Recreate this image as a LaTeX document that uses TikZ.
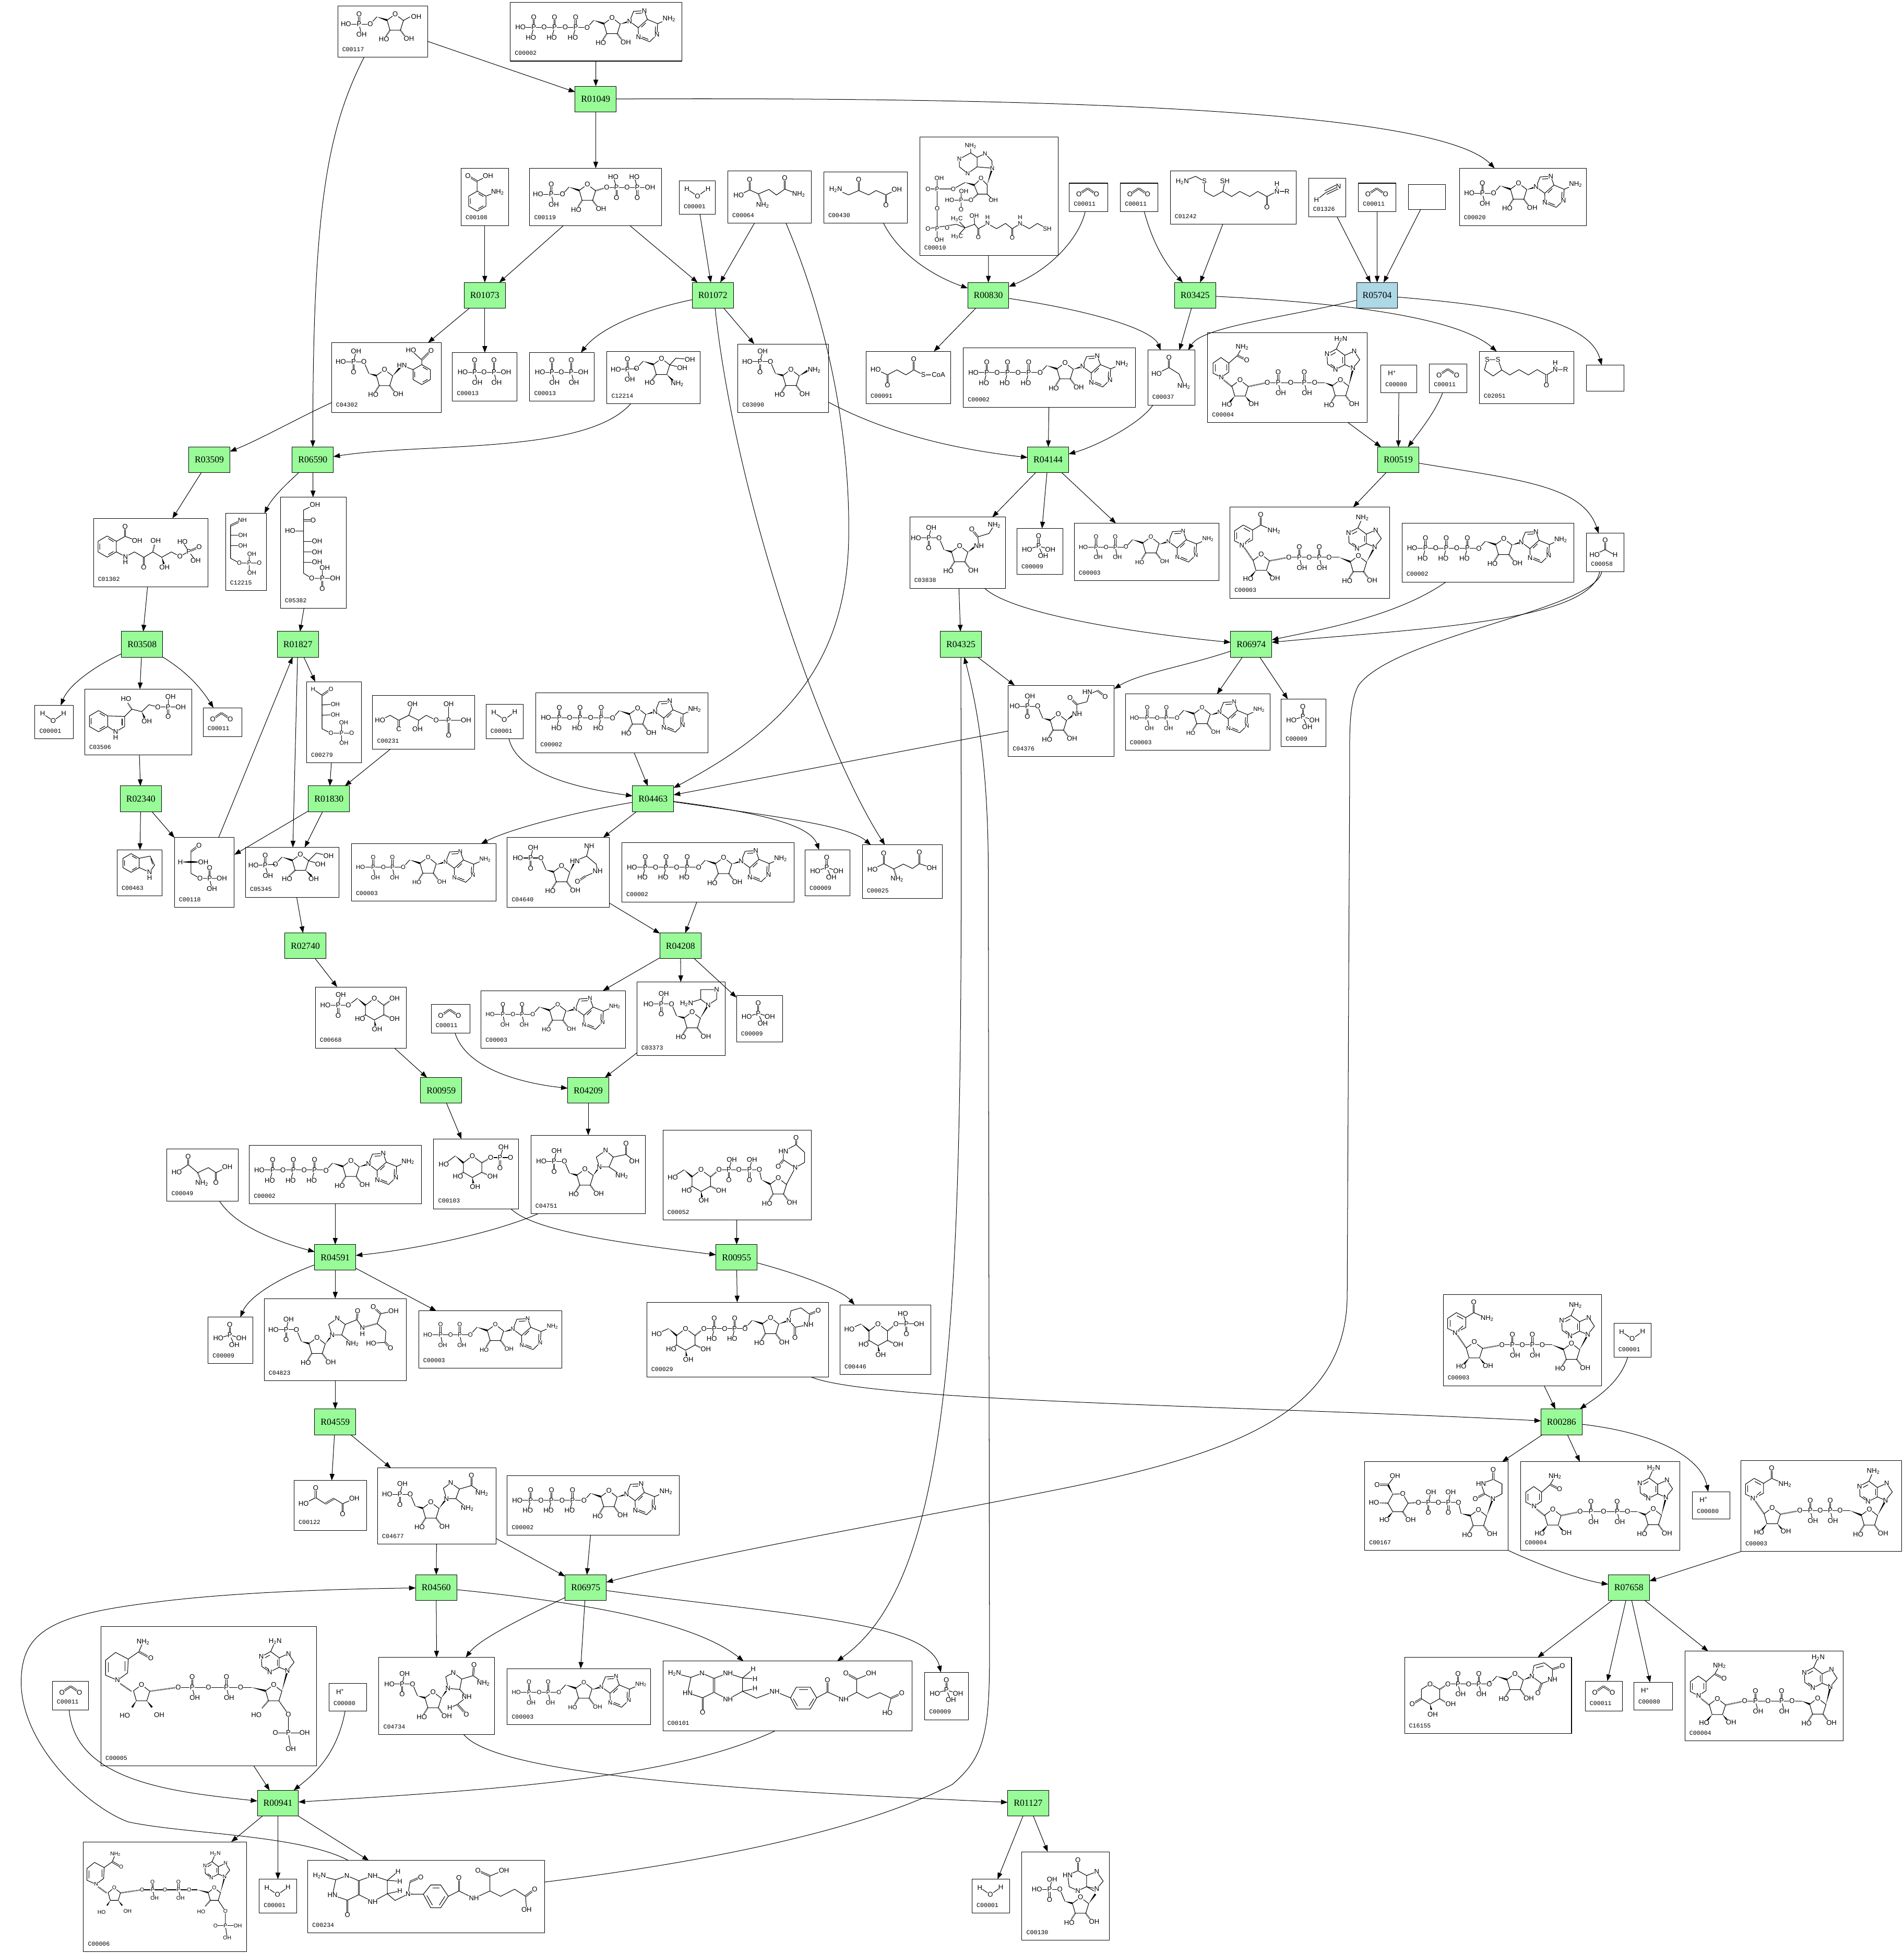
\documentclass[tikz,border=0pt]{standalone}
\usepackage{fontspec}
\setmainfont{Liberation Serif}
\setsansfont{Liberation Sans}
\setmonofont{Liberation Mono}
\usetikzlibrary{arrows.meta,calc}
\tikzset{
  cbox/.style={draw,fill=white,line width=.6pt,inner sep=0pt,outer sep=0pt},
  rbox/.style={draw,fill=rgreen,line width=.6pt,inner sep=0pt,outer sep=0pt,minimum width=1.65cm,minimum height=1.03cm,font=\rmfamily\fontsize{10.5}{12}\selectfont},
  rblue/.style={rbox,fill=rbluefill},
  cid/.style={font=\ttfamily\fontsize{6.9}{7}\selectfont,inner sep=0pt},
  atom/.style={font=\molfont,fill=white,inner sep=.2pt},
  bd/.style={line width=.62pt},
  hs/.style={line width=1.6pt,dash pattern=on .35pt off .55pt},
  rx/.style={line width=.6pt,-{Triangle[length=7.5pt,width=5.5pt]}}
}
\definecolor{rgreen}{RGB}{152,251,152}
\definecolor{rbluefill}{RGB}{173,216,230}
\newcommand\molfont{\sffamily\fontsize{7.8}{8}\selectfont}
\newcommand\molsize[1]{\def\molfont{\sffamily\fontsize{#1}{#1}\selectfont}}
\newcommand\NHt{NH\textsubscript{2}}
\newcommand\HtN{H\textsubscript{2}N}
\newcommand\HtC{H\textsubscript{3}C}
\newcount\atomno
\newcommand\atm[3]{\global\advance\atomno by 1 \node[atom] (a\the\atomno) at (#1,#2) {#3};}
\newcommand\bnd[1]{\draw[bd] #1;}
\newcommand\dbl[4]{\draw[bd,line width=.6pt,double,double distance=.8pt] (#1,#2)--(#3,#4);}
\newcommand\hsh[4]{\draw[hs] (#1,#2)--(#3,#4);}
\newcommand\wdg[4]{\fill (#1,#2) -- ($(#3,#4)!1.1pt!90:(#1,#2)$) -- ($(#3,#4)!1.1pt!-90:(#1,#2)$) -- cycle;}
% phosphate, double bond up or down
\newcommand\pdu[4]{\dbl{#1}{#2}{#1}{#2-8.2}\bnd{(#1,#2)--({#1+#3},{#2+8.3})}\atm{#1}{#2}{P}\atm{#1}{#2-8.2}{O}\atm{{#1+#3}}{{#2+8.3}}{#4}}
\newcommand\pud[4]{\dbl{#1}{#2}{#1}{#2+8.2}\bnd{(#1,#2)--({#1+#3},{#2-8.3})}\atm{#1}{#2}{P}\atm{#1}{#2+8.2}{O}\atm{{#1+#3}}{{#2-8.3}}{#4}}
% sugar rings
\newcommand\rng[2]{\begin{scope}[shift={(#1,#2)}]\bnd{(-6.5,4.8)--(0,0)--(6.6,5.1)--(4.2,12.8)--(-4.2,12.8)--cycle}\atm{0}{0}{O}\end{scope}}
\newcommand\ribd[2]{\begin{scope}[shift={(#1,#2)}]\hsh{-4.2}{12.8}{-7.5}{18}\hsh{4.2}{12.8}{8}{18}\atm{-9}{20.2}{HO}\atm{11}{19.6}{OH}\end{scope}}
\newcommand\ribc[2]{\rng{#1}{#2}\begin{scope}[shift={(#1,#2)}]\wdg{-14.7}{2.1}{-6.5}{4.8}\bnd{(-14.7,2.1)--(-20,8)}\atm{-20}{8}{O}\end{scope}}
\newcommand\rib[2]{\ribc{#1}{#2}\ribd{#1}{#2}}
\newcommand\ribh[2]{\rng{#1}{#2}\ribd{#1}{#2}\begin{scope}[shift={(#1,#2)}]\wdg{-12.5}{3.2}{-6.5}{4.8}\bnd{(-12.5,3.2)--(-16.5,-6.3)}\atm{-16.5}{-6.3}{O}\end{scope}}
\newcommand\rfpa[2]{\rib{#1}{#2}\begin{scope}[shift={(#1,#2)}]\bnd{(-39,8)--(-20,8)}\pdu{-29}{8}{2}{OH}\atm{-39.5}{8}{HO}\atm{-20}{8}{O}\end{scope}}
\newcommand\rfph[2]{\ribh{#1}{#2}\begin{scope}[shift={(#1,#2)}]\bnd{(-35,-6.3)--(-16.5,-6.3)}\pud{-24.8}{-6.3}{2}{OH}\atm{-35}{-6.3}{HO}\atm{-16.5}{-6.3}{O}\end{scope}}
\newcommand\pyr[2]{\begin{scope}[shift={(#1,#2)}]\bnd{(-7.2,5.6)--(0,0)--(7.6,5.6)--(7.6,13.2)--(0,17.4)--(-7.2,13.2)--cycle}\wdg{-13.6}{0}{-7.2}{5.6}\hsh{7.6}{13.2}{12.5}{15.5}\wdg{0}{17.4}{0.8}{22}\hsh{-7.2}{13.2}{-10}{15.5}\atm{0}{0}{O}\atm{16.2}{16.5}{OH}\atm{2.2}{24.7}{OH}\atm{-11.5}{16.5}{HO}\end{scope}}
% bases
\newcommand\ade[2]{\begin{scope}[shift={(#1,#2)}]\wdg{-7.5}{2.2}{0}{0}\bnd{(0,0)--(3.2,-8)--(11.8,-8.5)--(14.3,-1.5)--(6.9,5.1)--cycle}\bnd{(14.3,-1.5)--(22.5,1.9)--(22,10.7)--(16.1,16.4)--(7.1,12.7)--(6.9,5.1)}\bnd{(22.5,1.9)--(31.7,-2.1)}\bnd{(4.8,-6.3)--(10,-6.6)}\bnd{(9.4,4.8)--(13,1.3)}\bnd{(20.8,4)--(20.5,9)}\bnd{(10,12.5)--(15,14.5)}\atm{0}{0}{N}\atm{11.8}{-8.5}{N}\atm{22}{10.7}{N}\atm{7.1}{12.7}{N}\atm{31.7}{-2.1}{\NHt}\end{scope}}
\newcommand\adeb[3]{\begin{scope}[shift={(#1,#2)}]\bnd{(0,0)--(5.4,-6.7)--(.9,-13.6)--(-6.6,-10.3)--(-6.6,-2.7)--cycle}\bnd{(-6.6,-10.3)--(-13.4,-15.3)--(-20.9,-11.3)--(-20.5,-3.3)--(-14.1,1.1)--(-6.6,-2.7)}\bnd{(-13.4,-15.3)--(-9.8,-23.4)}\bnd{(-8.2,-9)--(-8.2,-4)}\bnd{(-14,-12.5)--(-18,-10.3)}\bnd{(-18,-3)--(-14.8,-1)}\atm{0}{0}{N}\atm{.9}{-13.6}{N}\atm{-20.9}{-11.3}{N}\atm{-14.1}{1.1}{N}\atm{-9.8}{-23.4}{#3}\end{scope}}
\newcommand\hexa[3]{\draw[bd] (#1,#2)+(90:#3)--+(150:#3)--+(210:#3)--+(270:#3)--+(330:#3)--+(30:#3)--cycle;
  \draw[bd] (#1,#2)+(158:{.76*#3})--+(202:{.76*#3}) (#1,#2)+(278:{.76*#3})--+(322:{.76*#3}) (#1,#2)+(38:{.76*#3})--+(82:{.76*#3});}
% small compounds
\newcommand\water{\bnd{(6.2,6.7)--(14.7,12.4)--(23.1,6.4)}\atm{6.2}{6.7}{H}\atm{14.7}{12.4}{O}\atm{23.1}{6.4}{H}}
\newcommand\carbon{\dbl{7.7}{9}{14.7}{4.2}\dbl{14.7}{4.2}{21.8}{9}\atm{7.7}{9}{O}\atm{21.8}{9}{O}}
\newcommand\proton{\atm{9}{6.4}{H\textsuperscript{+}}}
\newcommand\phosph{\bnd{(8.2,17)--(17.4,14.2)--(26.7,17)}\bnd{(17.4,14.2)--(21,22.2)}\dbl{17.4}{14.2}{17.4}{6}\atm{17.4}{6}{O}\atm{17.4}{14.2}{P}\atm{8.2}{17}{HO}\atm{26.7}{17}{OH}\atm{21}{22.2}{OH}}
\newcommand\pyroph{\bnd{(8.3,15.8)--(43,15.8)}\dbl{17.9}{15.8}{17.9}{6}\dbl{33.4}{15.8}{33.4}{6}\bnd{(17.9,15.8)--(20,23.9)}\bnd{(33.4,15.8)--(35.5,23.9)}\atm{17.9}{6}{O}\atm{33.4}{6}{O}\atm{8.3}{15.8}{HO}\atm{17.9}{15.8}{P}\atm{25.4}{15.8}{O}\atm{33.4}{15.8}{P}\atm{43}{15.8}{OH}\atm{20}{23.9}{OH}\atm{35.5}{23.9}{OH}}
\newcommand\atpm{\rib{81.6}{12.2}\ade{95.7}{15.1}\bnd{(8.1,19.9)--(60.7,19.9)}\pdu{18.8}{19.9}{-2.3}{HO}\pdu{35.5}{19.9}{-2.3}{HO}\pdu{52.4}{19.9}{-2.3}{HO}\atm{8.1}{19.9}{HO}\atm{27.1}{19.9}{O}\atm{44}{19.9}{O}\atm{61.6}{20.2}{O}}
\newcommand\adpm{\molsize{6.8}\rib{61.5}{10.9}\ade{75.6}{14.6}\bnd{(7.3,19)--(41.5,19)}\pdu{17.5}{19}{1.7}{OH}\pdu{32.9}{19}{1.7}{OH}\atm{7.3}{19}{HO}\atm{25.6}{19}{O}\atm{41.5}{18.9}{O}}
% dinucleotide parts
\newcommand\nleft[4]{\rng{#1}{#2}\begin{scope}[shift={(#1,#2)}]\wdg{-4.2}{12.8}{-8}{17.5}\wdg{4.2}{12.8}{8}{17.5}\atm{-10.5}{19.5}{HO}\atm{11}{19}{OH}\end{scope}\draw[hs] ({#1+7},{#2+5.1})--(#3,#4);}
\newcommand\nright[4]{\rng{#1}{#2}\ribd{#1}{#2}\wdg{#3+8}{#4}{#1-6.5}{#2+4.8}\bnd{(#3,#4)--({#3+8},#4)}}
\newcommand\dichain[6]{\bnd{(#2,#1)--(#6,#1)}\pdu{#3}{#1}{2.1}{OH}\pdu{#5}{#1}{2.1}{OH}\atm{#2}{#1}{O}\atm{#4}{#1}{O}\atm{#6}{#1}{O}}
\newcommand\nadm{\bnd{(10.3,30.3)--(3.6,27)--(3.6,19)--(10.6,14.3)--(18.1,18.3)--(18.1,26.2)--cycle}\bnd{(5.5,25.5)--(5.5,20)}\bnd{(11,16.8)--(16,19.5)}\bnd{(16,25)--(12,28.5)}\bnd{(18.1,18.3)--(24.6,14.3)--(35.3,18.9)}\dbl{24.6}{14.3}{24.6}{6}\atm{24.6}{6}{O}\atm{35.3}{18.9}{\NHt}\atm{10.8}{30.3}{N\textsuperscript{+}}\hsh{11.5}{32.5}{18.5}{42.7}
  \nleft{25}{37.9}{47.2}{40.2}\nright{103}{39}{79.5}{40.2}\wdg{109.6}{44}{116}{32}\adeb{116}{31.9}{\NHt}\dichain{40.2}{47.2}{55.6}{63.5}{71.6}{79.5}}
\newcommand\nadhm{\bnd{(11,35.7)--(4.3,32.4)--(4.3,24.4)--(10.7,19.9)--(17,24.4)--(17,31.6)--cycle}\bnd{(6,31)--(6,25.5)}\bnd{(15.3,25.5)--(15.3,30.5)}\bnd{(17,24.4)--(23.9,18.3)--(27.8,11.6)}\dbl{23.9}{18.3}{31.4}{22}\atm{31.4}{22}{O}\atm{27.8}{11.6}{\NHt}\atm{11}{35.7}{N}\hsh{13}{38}{19.5}{43.3}
  \nleft{26}{38}{47.9}{40}\nright{106.6}{37.7}{85.9}{40}\wdg{113.2}{42.8}{116.7}{29}\adeb{116.7}{28.4}{\HtN}\dichain{40}{47.9}{56.6}{66.7}{77.6}{85.9}}
\newcommand\ndpm{\bnd{(13.3,43.3)--(3.7,39.3)--(3.7,27.2)--(11.7,21)--(21.9,26.3)--(21.4,37.4)--cycle}\bnd{(6,37)--(6,29)}\bnd{(19.5,28)--(19.5,36)}\bnd{(21.9,26.3)--(30.4,20.4)--(33.9,12.4)}\dbl{30.4}{20.4}{40}{25.7}\atm{40}{25.7}{O}\atm{33.9}{12.4}{\NHt}\atm{13.3}{43.3}{N}\hsh{15.5}{46}{24.5}{52.2}
  \rng{32.6}{47}\wdg{28.4}{59.8}{25}{65}\wdg{36.8}{59.8}{41}{65}\atm{19.2}{71.7}{HO}\atm{46.7}{71.1}{OH}\hsh{39.6}{52.1}{62}{49}
  \rng{138.6}{47}\wdg{120.7}{49}{132.1}{51.8}\bnd{(112,49)--(120.7,49)}\hsh{134.4}{59.8}{129}{66}\bnd{(142.8,59.8)--(150.4,70.7)--(150.4,85.6)--(152.3,98.2)}\bnd{(140,85.6)--(163.5,85.6)}\wdg{145.2}{52}{149.6}{36}\adeb{149.6}{35.6}{\HtN}\atm{124.7}{71.3}{HO}\atm{150.4}{70.7}{O}\atm{150.4}{85.6}{P}\atm{140}{85.6}{O}\atm{163.5}{85.6}{OH}\atm{152.3}{98.2}{OH}
  \dichain{49}{62}{73.2}{86.3}{100.7}{112}}
\newcommand\ptrn{\bnd{(9.3,9.7)--(22.4,13)--(19.8,25.4)--(31.8,29.4)--(40.9,25)--(52.1,30.6)--(63.8,24.2)--(63.8,13.5)--(52.1,9.7)--(40.9,13.8)--(31.3,9.7)--(22.4,13)}\bnd{(63.8,13.5)--(72.4,6.3)}\bnd{(63.8,13.5)--(73.8,14.2)}\bnd{(63.8,24.2)--(73.8,22)}\dbl{40.9}{13.8}{40.9}{25}\dbl{31.8}{29.4}{31.8}{41}\atm{9.3}{9.7}{\HtN}\atm{31.3}{9.7}{N}\atm{52.1}{9.7}{NH}\atm{19.8}{25.4}{HN}\atm{52.1}{30.6}{NH}\atm{31.8}{41}{O}\atm{72.4}{6.3}{H}\atm{73.8}{14.2}{H}\atm{73.8}{22}{H}}
\begin{document}
\newcommand\cpd[7]{%
  \node[cbox,minimum width={(#4-#2)*0.05cm},minimum height={(#5-#3)*0.05cm}] (#1) at ({(#2+#4)/2},{(#3+#5)/2}) {};
  \node[cid,anchor=west] (#1id) at (#2+3.5,#5-6.3) {#6};
  \begin{scope}[shift={(#2,#3)}]#7\end{scope}}
\newcommand\rxn[3]{\node[rbox] (#1) at (#2,#3) {#1};}
\begin{tikzpicture}[x=0.05cm,y=-0.05cm,line join=round]
\useasboundingbox (0,0) rectangle (1527.4,1568);
% reactions
\rxn{R01049}{478}{79.5}
\rxn{R01073}{389}{237}\rxn{R01072}{572}{237}\rxn{R00830}{793}{237}\rxn{R03425}{959}{237}
\node[rblue] (R05704) at (1105,237) {R05704};
\rxn{R03509}{168}{369}\rxn{R06590}{251}{369}\rxn{R04144}{841}{369}\rxn{R00519}{1122}{369}
\rxn{R03508}{114}{517}\rxn{R01827}{239}{517}\rxn{R04325}{771}{517}\rxn{R06974}{1004}{517}
\rxn{R02340}{113}{641}\rxn{R01830}{264}{641}\rxn{R04463}{524}{641}
\rxn{R02740}{245}{759}\rxn{R04208}{546}{759}
\rxn{R00959}{354}{875}\rxn{R04209}{472}{875}
\rxn{R04591}{269}{1009}\rxn{R00955}{591}{1009}
\rxn{R04559}{269}{1141}\rxn{R00286}{1253}{1141}
\rxn{R04560}{350}{1274}\rxn{R06975}{470}{1274}\rxn{R07658}{1307}{1274}
\rxn{R00941}{223}{1447}\rxn{R01127}{825}{1447}
% compounds
\cpd{C00117}{271}{5}{343}{46}{C00117}{\rfpa{46.1}{6.4}\bnd{(52.6,11.5)--(58,8.5)}\atm{63}{8.3}{OH}}
\cpd{C00002a}{409.5}{2}{547}{49}{C00002}{\atpm}
\cpd{C00020}{1171}{135}{1273}{181}{C00020}{\rfpa{47.5}{12}\ade{61.6}{15}}
\cpd{C00108}{370}{135}{408}{181}{C00108}{\hexa{13}{26.4}{8}\bnd{(12.8,18.5)--(12.8,10.4)--(21.6,6.1)}\bnd{(20.1,22.2)--(29.3,19)}\dbl{12.8}{10.4}{5.4}{6.1}\atm{5.4}{6.1}{O}\atm{21.6}{6.1}{OH}\atm{29.3}{19}{\NHt}}
\cpd{C00119}{425}{135}{531}{181}{C00119}{\rfpa{46.3}{13}\bnd{(61.8,15.4)--(96.6,15.4)}\hsh{53}{18}{61.8}{15.4}\pud{69.7}{15.4}{-2.6}{HO}\pud{86.3}{15.4}{-2.3}{HO}\atm{61.8}{15.4}{O}\atm{78.2}{15.4}{O}\atm{96.6}{15.4}{OH}}
\cpd{C00001a}{545}{145}{574}{172}{C00001}{\water}
\cpd{C00064}{584}{137}{651}{179}{C00064}{\bnd{(8.7,19.7)--(17.5,15.4)--(24.6,18.6)--(33,15)--(39,19.5)--(45.7,14.8)--(56.9,18.9)}\dbl{17.5}{15.4}{17.5}{7}\dbl{45.7}{14.8}{45.7}{6}\hsh{24.6}{18.6}{27}{25}\atm{8.7}{19.7}{HO}\atm{17.5}{7}{O}\atm{45.7}{6}{O}\atm{28}{27.7}{\NHt}\atm{56.9}{18.9}{\NHt}}
\cpd{C00430}{661}{138}{728}{179}{C00430}{\bnd{(9.6,14)--(20,18.4)--(28,14.9)--(36,18.4)--(42,14.9)--(49.9,18.4)--(58.6,14)}\dbl{28}{14.9}{28}{6}\dbl{49.9}{18.4}{49.9}{26.5}\atm{9.6}{14}{\HtN}\atm{28}{6}{O}\atm{49.9}{26.5}{O}\atm{58.6}{14}{OH}}
\cpd{C00010}{738}{110}{849}{205}{C00010}{\molsize{7}\bnd{(40.9,7)--(40.9,12.7)--(31.8,17.6)--(31.8,23.9)--(38.5,29.2)--(46,23.9)--(46,16.2)--(40.9,12.7)}\bnd{(46,16.2)--(52.4,13.4)--(57.9,19)--(58.2,25)--(46,23.9)}\bnd{(43.7,38.5)--(49.2,33.2)--(54.1,38.3)--(54.1,45.8)--(46.6,45.8)--cycle}\wdg{54.1}{38.3}{58.2}{25}\wdg{36.4}{36.4}{43.7}{38.5}\bnd{(36.4,36.4)--(26.9,41.6)--(6.6,41.6)}\bnd{(14,33)--(14,82.5)}\bnd{(6.6,73.5)--(29.4,70)--(36.4,72.8)--(44,70)--(47,73.5)--(54.4,69.6)--(61.7,73.5)--(68.8,69.3)--(74.2,73.5)--(80.6,69.6)--(88,73.5)--(94.4,69.3)--(102.3,73.5)}\bnd{(36.4,72.8)--(30,66)}\bnd{(36.4,72.8)--(30,79.7)}\bnd{(44,70)--(43.7,63.3)}\dbl{47}{73.5}{47}{80.3}\dbl{74.2}{73.5}{74.2}{80.8}\hsh{46.6}{45.8}{41.2}{50.5}\bnd{(41.2,50.5)--(24,50.7)}\bnd{(33.2,43.6)--(33.2,58)}\bnd{(54.1,45.8)--(59,50.7)}\atm{40.9}{7}{\NHt}\atm{31.8}{17.6}{N}\atm{38.5}{29.2}{N}\atm{52.4}{13.4}{N}\atm{58.2}{25}{N}\atm{49.2}{33.2}{O}\atm{26.9}{41.6}{O}\atm{14}{41.6}{P}\atm{6.6}{41.6}{O}\atm{15.6}{33}{OH}\atm{14}{57.4}{O}\atm{14}{73.5}{P}\atm{6.6}{73.5}{O}\atm{15.6}{82.5}{OH}\atm{22}{72.6}{O}\atm{29.8}{65.8}{\HtC}\atm{30}{79.7}{\HtC}\atm{43.7}{63.3}{OH}\atm{47}{80.3}{O}\atm{54.4}{69}{N}\atm{54.4}{64.5}{H}\atm{74.2}{80.8}{O}\atm{80.6}{69.6}{N}\atm{80.6}{64.5}{H}\atm{102.3}{73.5}{SH}\atm{41.2}{50.5}{O}\atm{33.2}{50.7}{P}\atm{24}{50.7}{HO}\atm{35.3}{43.6}{OH}\atm{33.2}{58}{O}\atm{59}{50.7}{OH}}
\cpd{C00011a}{858}{147}{889}{170}{C00011}{\carbon}
\cpd{C00011b}{899}{147}{929}{170}{C00011}{\carbon}
\cpd{C01242}{939}{137}{1040}{180}{C01242}{\bnd{(9.7,8.9)--(20.3,4.5)--(27.4,8.5)--(27.4,16.6)--(34.8,20.7)--(42.2,16.6)--(49.3,20.7)--(55.8,16.6)--(63.8,20.7)--(70.2,16.6)--(77.6,20.7)--(85.6,16.6)--(93.7,16.6)}\bnd{(42.2,16.6)--(43.8,8.5)}\dbl{77.6}{20.7}{77.6}{29.2}\bnd{(85.6,16.6)--(85.6,10.6)}\atm{9.7}{8.9}{\HtN}\atm{27.4}{8.5}{S}\atm{43.8}{8.5}{SH}\atm{77.6}{29.2}{O}\atm{85.6}{16.6}{N}\atm{85.6}{10.6}{H}\atm{93.7}{16.6}{R}}
\cpd{C01326}{1050}{143}{1080}{174}{C01326}{\bnd{(6.4,17.6)--(13.8,11.6)}\bnd{(13.8,11.6)--(24.1,6.7)}\bnd{(14.5,13)--(24,8.5)}\bnd{(13,10.2)--(22,5.5)}\atm{6.4}{17.6}{H}\atm{24.1}{6.7}{N}}
\cpd{C00011c}{1090}{147}{1120}{170}{C00011}{\carbon}
\cpd{blanka}{1130}{148}{1160}{168}{}{}
\cpd{C04302}{266}{275}{354}{331}{C04302}{\rfph{42.5}{21.6}\wdg{49}{26.7}{55}{20}\hexa{72.4}{25.6}{8}\bnd{(56.5,18.3)--(65.5,21.6)}\bnd{(72.4,17.6)--(72.4,13.8)--(63.8,6)}\dbl{72.4}{13.8}{79.9}{6.3}\atm{56.5}{18.3}{HN}\atm{63.8}{6}{HO}\atm{79.9}{6.3}{O}}
\cpd{C00013a}{363}{283}{415}{322}{C00013}{\pyroph}
\cpd{C00013b}{425}{283}{477}{322}{C00013}{\pyroph}
\cpd{C12214}{487}{282}{562}{324}{C12214}{\ribc{43.8}{5.7}\bnd{(7.2,14.3)--(24,14)}\dbl{16.5}{14.3}{16.5}{6.1}\bnd{(16.5,14.3)--(18.4,22.6)}\bnd{(50.4,10.8)--(60.4,13.1)}\bnd{(50.4,10.8)--(55.4,5.4)--(66.5,6.4)}\hsh{39.6}{18.5}{36}{23}\wdg{48}{18.5}{53}{23.5}\atm{16.5}{6.1}{O}\atm{16.5}{14.3}{P}\atm{7.2}{14.3}{HO}\atm{18.4}{22.6}{OH}\atm{60.4}{13.1}{OH}\atm{66.5}{6.4}{OH}\atm{34.4}{25}{HO}\atm{56.5}{25.7}{\NHt}}
\cpd{C03090}{592}{276}{665}{331}{C03090}{\rfph{42.7}{20.5}\wdg{49.3}{25.6}{56}{21.5}\atm{61.4}{20.8}{\NHt}}
\cpd{C00091}{695}{282}{763}{324}{C00091}{\bnd{(7.6,14.4)--(17.1,18.8)--(24.7,14.8)--(31.9,18.8)--(38.2,14.8)--(45.8,18.8)--(52,18.8)}\dbl{17.1}{18.8}{17.1}{27}\dbl{38.2}{14.8}{38.2}{6}\atm{7.6}{14.4}{HO}\atm{17.1}{27}{O}\atm{38.2}{6}{O}\atm{45.8}{18.8}{S}\atm{58}{18.8}{CoA}}
\cpd{C00002b}{773}{279}{911}{327}{C00002}{\atpm}
\cpd{C00037}{921}{281}{959}{325}{C00037}{\bnd{(7,19)--(17,14)--(25,19)--(29,28)}\dbl{17}{14}{17}{6}\atm{7}{19}{HO}\atm{17}{6}{O}\atm{29}{29}{\NHt}}
\cpd{C00004a}{969}{267}{1097}{339}{C00004}{\nadhm}
\cpd{C02051}{1187}{282}{1263}{324}{C02051}{\bnd{(6.4,6.6)--(15,6.6)--(18,14.9)--(11.1,19.7)--(4.1,14.9)--cycle}\bnd{(18,14.9)--(24.4,18.9)--(31.9,14.6)--(39.4,18.9)--(46.4,14.6)--(53.9,18.9)--(61,14.6)--(69.2,14.6)}\bnd{(61,14.6)--(61,9)}\dbl{53.9}{18.9}{53.9}{26.9}\atm{6.4}{6.6}{S}\atm{15}{6.6}{S}\atm{53.9}{26.9}{O}\atm{61}{14.6}{N}\atm{61}{9}{H}\atm{69.2}{14.6}{R}}
\cpd{blankb}{1273}{293}{1303}{314}{}{}
\cpd{C00080a}{1108}{293}{1137}{315}{C00080}{\proton}
\cpd{C00011d}{1147}{292}{1177}{315}{C00011}{\carbon}
\cpd{C01302}{75}{416}{167}{471}{C01302}{\hexa{11}{22.6}{8.5}\bnd{(18.4,26.9)--(25.7,30.7)--(32.9,26.9)--(40.4,31.2)--(47.6,26.9)--(54.8,31.2)--(62.5,26.9)--(69.4,30.5)--(76.5,26.5)--(82,33.9)}\bnd{(18.4,18.4)--(25.4,14.4)--(35,18)}\dbl{25.4}{14.4}{25.4}{6.7}\dbl{40.4}{31.2}{40.4}{39.2}\hsh{47.6}{26.9}{49}{21}\wdg{54.8}{31.2}{56.5}{36.5}\bnd{(76.5,26.5)--(71.4,18.7)}\dbl{76.5}{26.5}{84.8}{22.9}\atm{25.4}{6.7}{O}\atm{35}{18}{OH}\atm{25.7}{30.7}{N}\atm{25.7}{35.2}{H}\atm{40.4}{39.2}{O}\atm{49.9}{18}{OH}\atm{57}{39.2}{OH}\atm{69.4}{30.5}{O}\atm{76.5}{26.5}{P}\atm{71.4}{18.7}{HO}\atm{84.8}{22.9}{O}\atm{82}{33.9}{OH}}
\cpd{C12215}{181}{412}{214}{474}{C12215}{\molsize{6.8}\dbl{13}{5.5}{4}{9.8}\bnd{(4,9.8)--(4,36)--(11,39.8)--(27,39.8)}\bnd{(4,17.6)--(13.8,17.6)}\bnd{(4,26)--(13.8,26)}\bnd{(18.9,32.4)--(18.9,47.7)}\atm{13.5}{5.5}{NH}\atm{13.8}{17.6}{OH}\atm{13.8}{26}{OH}\atm{11}{39.8}{O}\atm{18.9}{39.8}{P}\atm{27.1}{39.8}{O}\atm{21}{32.4}{OH}\atm{21}{47.7}{OH}}
\cpd{C05382}{225}{399}{278}{488}{C05382}{\bnd{(27.7,6)--(18.6,10.3)--(18.6,61)--(25.1,65.1)--(44,65.1)}\dbl{18.6}{18.6}{26.3}{18.6}\bnd{(7.8,27)--(18.6,27)}\bnd{(18.6,35.4)--(29.4,35.4)}\bnd{(18.6,43.9)--(29.4,43.9)}\bnd{(18.6,52.1)--(29.4,52.1)}\bnd{(33.6,56.7)--(33.6,65.1)}\dbl{33.6}{65.1}{33.6}{73.4}\atm{27.7}{6}{OH}\atm{26.3}{18.6}{O}\atm{7.8}{27}{HO}\atm{29.4}{35.4}{OH}\atm{29.4}{43.9}{OH}\atm{29.4}{52.1}{OH}\atm{35.6}{56.7}{OH}\atm{25.1}{65.1}{O}\atm{33.6}{65.1}{P}\atm{44}{65.1}{OH}\atm{33.6}{73.4}{O}}
\cpd{C03838}{730}{415}{807}{472}{C03838}{\rfph{40}{23}\wdg{46.6}{28}{52}{24}\bnd{(55.3,23)--(54.6,15.8)--(63.6,13.1)--(67,7.5)}\dbl{54.6}{15.8}{49.8}{9.8}\atm{55.5}{23}{NH}\atm{49.8}{9.8}{O}\atm{67.8}{6.2}{\NHt}}
\cpd{C00009a}{816}{424}{853}{461}{C00009}{\phosph}
\cpd{C00003a}{862}{420}{978}{466}{C00003}{\adpm}
\cpd{C00003b}{987}{407}{1115}{480}{C00003}{\nadm}
\cpd{C00002c}{1125}{420}{1263}{467}{C00002}{\atpm}
\cpd{C00058}{1273}{428}{1303}{459}{C00058}{\bnd{(6.5,17)--(15,13)--(22,17)}\dbl{15}{13}{15}{5.5}\atm{6.5}{17}{HO}\atm{15}{5.5}{O}\atm{23}{17}{H}}
\cpd{C00001b}{28}{566}{59}{593}{C00001}{\water}
\cpd{C03506}{68}{553}{154}{606}{C03506}{\hexa{11.1}{25.7}{8.5}\bnd{(18.5,21.5)--(32,21.9)--(32,30)--(24.8,34.2)--(18.5,30)}\bnd{(30,23.5)--(30,29)}\bnd{(32,21.9)--(37.8,16.1)--(45.7,18.1)--(51.5,12.5)--(58.7,14.3)--(77,14.3)}\hsh{37.8}{16.1}{34.5}{11}\wdg{45.7}{18.1}{48}{23}\bnd{(66.9,6.2)--(66.9,14.3)}\dbl{66.9}{14.3}{66.9}{22.1}\atm{24.8}{34.2}{N}\atm{24.8}{38.7}{H}\atm{33.1}{7.9}{HO}\atm{49.8}{25.6}{OH}\atm{58.7}{14.3}{O}\atm{66.9}{14.3}{P}\atm{68.8}{6.2}{OH}\atm{77}{14.3}{OH}\atm{66.9}{22.1}{O}}
\cpd{C00011e}{163}{568}{194}{591}{C00011}{\carbon}
\cpd{C00279}{246}{547}{290}{612}{C00279}{\molsize{6.8}\bnd{(5.2,6)--(12.4,10.9)--(12.4,37.8)--(19.5,41.4)--(36.2,41.4)}\dbl{12.4}{10.9}{19.5}{6}\bnd{(12.4,18.7)--(23,18)}\bnd{(12.4,26.9)--(23,26.5)}\bnd{(28.1,32.9)--(28.1,49.2)}\atm{5.2}{6}{H}\atm{19.5}{6}{O}\atm{23}{18}{OH}\atm{23}{26.5}{OH}\atm{19.5}{41.4}{O}\atm{28.1}{41.4}{P}\atm{29.7}{32.9}{OH}\atm{36.2}{41.4}{O}\atm{30}{49.2}{OH}}
\cpd{C00231}{299}{558}{381}{601}{C00231}{\bnd{(6,20)--(14,16)--(21,20)--(29,16)--(37,20)--(43,16)--(51,20)--(75,20)}\dbl{21}{20}{21}{27}\bnd{(29,16)--(32,7)}\bnd{(37,20)--(36,27)}\bnd{(61,7)--(61,20)}\dbl{61}{20}{61}{32}\atm{6}{20}{HO}\atm{21}{27}{C}\atm{32}{7}{OH}\atm{36}{27}{OH}\atm{51}{20}{O}\atm{61}{20}{P}\atm{61}{7}{OH}\atm{75}{20}{OH}\atm{61}{32}{O}}
\cpd{C00001c}{390}{565}{420}{593}{C00001}{\water}
\cpd{C00002d}{430}{556}{568}{604}{C00002}{\atpm}
\cpd{C04376}{809}{550}{894}{607}{C04376}{\rfph{40.2}{23.1}\wdg{46.8}{28}{52}{24}\bnd{(55,23.1)--(55,15.3)--(63.2,13.1)--(65,7)--(71.7,4.2)}\dbl{55}{15.3}{49.6}{9.8}\dbl{71.7}{4.2}{77.8}{8.9}\atm{55.2}{23.1}{NH}\atm{49.6}{9.8}{O}\atm{63.5}{5.5}{HN}\atm{77.8}{8.9}{O}}
\cpd{C00003c}{903}{557}{1019}{602}{C00003}{\adpm}
\cpd{C00009b}{1028}{561}{1064}{599}{C00009}{\phosph}
\cpd{C00463}{94}{682}{130}{719}{C00463}{\hexa{11.2}{10.5}{7.5}\bnd{(17.7,6.7)--(26.5,5)--(30,12.3)--(26,17.9)--(17.7,14.2)}\bnd{(27,7)--(28.5,11.5)}\atm{26}{17.9}{N}\atm{26}{22.5}{H}}
\cpd{C00118}{140}{672}{188}{728}{C00118}{\dbl{13.2}{11.3}{19.7}{6.4}\bnd{(13.2,11.3)--(13.2,28.8)--(20.5,32.9)--(38,32.9)}\wdg{23}{19.7}{13.2}{19.7}\wdg{4.7}{19.7}{13.2}{19.7}\dbl{28.2}{32.9}{28.2}{24.6}\bnd{(28.2,32.9)--(30,41.3)}\atm{19.7}{6.4}{O}\atm{4.7}{19.7}{H}\atm{23.1}{19.7}{OH}\atm{20.5}{32.9}{O}\atm{28.2}{32.9}{P}\atm{28.2}{24.6}{O}\atm{38}{32.9}{OH}\atm{30}{41.3}{OH}}
\cpd{C05345}{197}{680}{272}{720}{C05345}{\ribc{44}{5.6}\bnd{(6.4,14.5)--(24,13.6)}\dbl{15.8}{14.5}{15.8}{6.3}\bnd{(15.8,14.5)--(18,22.6)}\bnd{(50.6,10.7)--(56.8,4.5)--(66.6,6.8)}\bnd{(50.6,10.7)--(60,13.5)}\hsh{39.8}{18.4}{35}{23}\wdg{48.2}{18.4}{53}{23}\atm{15.8}{6.3}{O}\atm{15.8}{14.5}{P}\atm{6.4}{14.5}{HO}\atm{18}{22.6}{OH}\atm{66.6}{6.8}{OH}\atm{60}{13.5}{OH}\atm{33.3}{25.4}{HO}\atm{54.7}{25.4}{OH}}
\cpd{C00003d}{282}{677}{398}{723}{C00003}{\adpm}
\cpd{C04640}{407}{672}{489}{728}{C04640}{\rfph{43.6}{22.8}\wdg{50.2}{27.9}{54.3}{19}\bnd{(54.3,19)--(63.7,15)--(71.4,21.4)--(72.6,27)--(62.8,31.1)}\bnd{(63.7,15)--(65.8,6.7)}\dbl{62.8}{31.1}{56.4}{35.3}\atm{54.3}{19}{HN}\atm{65.8}{6.7}{NH}\atm{72.6}{27}{NH}\atm{56.4}{35.3}{O}}
\cpd{C00002e}{499}{676}{637}{724}{C00002}{\atpm}
\cpd{C00009c}{646}{682}{682}{719}{C00009}{\phosph}
\cpd{C00025}{692}{678}{756}{721}{C00025}{\bnd{(8.1,19.7)--(17.1,15.1)--(25.2,19.3)--(32.9,15.4)--(40.2,18.9)--(45.7,15.1)--(55.6,18.3)}\dbl{17.1}{15.1}{17.1}{6.7}\dbl{45.7}{15.1}{45.7}{6}\hsh{25.2}{19.3}{27}{25}\atm{8.1}{19.7}{HO}\atm{17.1}{6.7}{O}\atm{45.7}{6}{O}\atm{55.6}{18.3}{OH}\atm{27.8}{27.4}{\NHt}}
\cpd{C00668}{253}{792}{326}{841}{C00668}{\pyr{47.4}{9.1}\bnd{(8.1,14.7)--(26.5,14.7)--(33.8,9.1)}\pud{18.4}{14.7}{2}{OH}\atm{8.1}{14.7}{HO}\atm{26.5}{14.7}{O}\hsh{55}{14.7}{60}{11}\atm{63.6}{9.1}{OH}}
\cpd{C00003e}{386}{795}{502}{841}{C00003}{\adpm}
\cpd{C03373}{511}{788}{582}{847}{C03373}{\rfph{44.4}{24}\wdg{51}{29}{57.2}{18.4}\bnd{(57.2,18.4)--(51.3,13.9)--(51.3,6.1)--(64.1,6.1)--(64.1,13.9)--cycle}\bnd{(51.3,13.9)--(40,17.4)}\atm{57.2}{18.4}{N}\atm{64.1}{6.1}{N}\atm{40}{17.4}{\HtN}}
\cpd{C00009d}{591}{799}{628}{836}{C00009}{\phosph}
\cpd{C00011f}{346}{806}{377}{829}{C00011}{\carbon}
\cpd{C00103}{348}{914}{416}{970}{C00103}{\pyr{31}{13.5}\bnd{(17.4,13.5)--(8.1,20.5)}\hsh{38.6}{19.1}{45.8}{14.9}\bnd{(45.8,14.9)--(61.7,14.9)}\pud{53.2}{14.9}{2.8}{OH}\atm{8.1}{20.5}{HO}\atm{45.8}{14.9}{O}\atm{61.7}{14.9}{O}}
\cpd{C04751}{426}{911}{518}{974}{C04751}{\rfph{43.4}{27.2}\wdg{50}{32.3}{54.9}{25.4}\bnd{(54.9,25.4)--(52.5,17.5)--(60,12.2)--(66.1,17.5)--(62.7,25.4)--cycle}\bnd{(66.1,17.5)--(76.3,15.4)--(83,20.7)}\dbl{76.3}{15.4}{76.3}{6.6}\bnd{(62.7,25.4)--(73,32.4)}\atm{54.9}{25.4}{N}\atm{60}{12.2}{N}\atm{76.3}{6.6}{O}\atm{83}{20.7}{OH}\atm{73}{32.4}{\NHt}}
\cpd{C00052}{532}{907}{651}{979}{C00052}{\pyr{30.5}{31.7}\bnd{(16.9,31.7)--(7.8,37.7)}\hsh{38.1}{37.3}{45}{31.7}\rng{92.5}{38.4}\ribd{92.5}{38.4}\wdg{79}{39.7}{86}{43.2}\bnd{(77.3,31.7)--(79,39.7)}\bnd{(45,31.7)--(77.3,31.7)}\pud{52.8}{31.7}{2.4}{OH}\pud{69.4}{31.7}{2}{OH}\bnd{(99,43.5)--(106.1,30)--(96.6,23.7)--(96.6,17)--(106.8,11.5)--(113.6,17.7)--(113.6,25.8)--(106.1,30)}\dbl{106.8}{11.5}{106.8}{5.9}\dbl{96.6}{23.7}{92.5}{29}\atm{7.8}{37.7}{HO}\atm{45}{31.7}{O}\atm{60.9}{31.7}{O}\atm{77.3}{31.7}{O}\atm{106.1}{30}{N}\atm{96.6}{17}{HN}\atm{106.8}{5.9}{O}\atm{92.5}{29}{O}}
\cpd{C00049}{134}{922}{191}{964}{C00049}{\bnd{(7.8,18.7)--(17,12.6)--(24.7,19)--(33.2,15)--(39.3,19)--(48.4,14.5)}\dbl{17}{12.6}{17}{6.1}\dbl{39.3}{19}{39.3}{27}\hsh{24.7}{19}{27}{25}\atm{7.8}{18.7}{HO}\atm{17}{6.1}{O}\atm{39.3}{27}{O}\atm{48.4}{14.5}{OH}\atm{28}{27.4}{\NHt}}
\cpd{C00002f}{200}{919}{338}{966}{C00002}{\atpm}
\cpd{C00009e}{167}{1057}{203}{1094}{C00009}{\phosph}
\cpd{C04823}{212}{1042}{326}{1108}{C04823}{\rfph{42.4}{31.3}\wdg{49}{36.4}{54.5}{29.2}\bnd{(54.5,29.2)--(51.7,20.8)--(58.7,15.9)--(65,20.8)--(62.2,29.2)--cycle}\bnd{(62.2,29.2)--(70.8,36.2)}\bnd{(65,20.8)--(74.3,17)--(78.8,23.3)}\dbl{74.3}{17}{75}{10}\hsh{78.8}{23.3}{90.6}{20.1}\bnd{(90.6,20.1)--(93.4,12.2)--(103.8,10)}\dbl{93.4}{12.2}{87.5}{6.6}\bnd{(90.6,20.1)--(97.6,26.1)--(97,35.2)--(85.8,35.9)}\dbl{97}{35.2}{101.4}{39.7}\atm{54.5}{29.2}{N}\atm{58.7}{15.9}{N}\atm{70.8}{36.2}{\NHt}\atm{75}{10}{O}\atm{78.8}{23.3}{N}\atm{78.8}{28.5}{H}\atm{87.5}{6.6}{O}\atm{103.8}{10}{OH}\atm{85.8}{35.9}{HO}\atm{101.4}{39.7}{O}}
\cpd{C00003f}{336}{1052}{451}{1098}{C00003}{\adpm}
\cpd{C00029}{519}{1045}{665}{1105}{C00029}{\pyr{31.1}{21.1}\bnd{(17.5,21.1)--(7.9,25.4)}\hsh{38.7}{26.7}{45.8}{21.1}\rib{99.3}{12.4}\bnd{(45.8,21.1)--(78.8,21.1)}\pdu{54.1}{21.1}{-2}{HO}\pdu{70.5}{21.1}{-2}{HO}\wdg{105.9}{17.5}{114}{14.5}\bnd{(114,14.5)--(115.7,6.8)--(123.7,4.5)--(130.6,9.6)--(129.8,18)--(118.9,20.1)--cycle}\dbl{130.6}{9.6}{137.6}{6.8}\dbl{118.9}{20.1}{118.9}{28.5}\atm{7.9}{25.4}{HO}\atm{45.8}{21.1}{O}\atm{62.5}{21.1}{O}\atm{78.8}{21.1}{O}\atm{114}{14.5}{N}\atm{137.6}{6.8}{O}\atm{129.8}{18}{NH}\atm{118.9}{28.5}{O}}
\cpd{C00446}{674}{1047}{747}{1103}{C00446}{\pyr{30.5}{15.4}\bnd{(16.9,15.4)--(7.6,19.6)}\hsh{38.1}{21}{45}{15.4}\bnd{(45,15.4)--(63.4,15.4)}\pud{53.3}{15.4}{-2.8}{HO}\atm{7.6}{19.6}{HO}\atm{45}{15.4}{O}\atm{63.4}{15.4}{OH}}
\cpd{C00003g}{1158}{1039}{1285}{1112}{C00003}{\nadm}
\cpd{C00001d}{1295}{1062}{1325}{1089}{C00001}{\water}
\cpd{C00122}{236}{1188}{294}{1228}{C00122}{\bnd{(7.6,18.7)--(17.4,13.8)}\bnd{(17.4,13.8)--(25,18.7)}\dbl{25}{18.7}{32}{14.5}\bnd{(32,14.5)--(38.9,18.7)--(48.3,14.5)}\dbl{17.4}{13.8}{17.4}{6.1}\dbl{38.9}{18.7}{38.9}{27}\atm{7.6}{18.7}{HO}\atm{17.4}{6.1}{O}\atm{38.9}{27}{O}\atm{48.3}{14.5}{OH}}
\cpd{C04677}{303}{1178}{398}{1239}{C04677}{\rfph{42.7}{27.4}\wdg{49.3}{32.5}{55.2}{24.6}\bnd{(55.2,24.6)--(52.8,16.2)--(58.7,12)--(65.6,16.9)--(62.8,24.6)--cycle}\bnd{(65.6,16.9)--(75.3,14.1)--(83.7,20.1)}\dbl{75.3}{14.1}{75.3}{6}\bnd{(62.8,24.6)--(72,32.3)}\atm{55.2}{24.6}{N}\atm{58.7}{12}{N}\atm{75.3}{6}{O}\atm{83.7}{20.1}{\NHt}\atm{72}{32.3}{\NHt}}
\cpd{C00002g}{407}{1184}{545}{1232}{C00002}{\atpm}
\cpd{C00167}{1095}{1173}{1210}{1244}{C00167}{\bnd{(22.6,26)--(30.6,25.7)--(34.8,33.3)--(30.6,40.1)--(22.6,40.1)--(18.7,33.3)--cycle}\wdg{22.6}{26}{18.7}{18.5}\bnd{(18.7,18.5)--(24.3,11.3)}\dbl{18.7}{18.5}{10}{18.5}\hsh{18.7}{33.3}{11.5}{33}\wdg{22.6}{40.1}{19}{44.5}\hsh{30.6}{40.1}{33.5}{44.5}\hsh{34.8}{33.3}{43.2}{32.6}\rng{91.3}{38.4}\ribd{91.3}{38.4}\wdg{77.4}{41.6}{84.8}{43.2}\bnd{(75.3,32.6)--(77.4,41.6)}\bnd{(43.2,32.6)--(75.3,32.6)}\pud{51.1}{32.6}{2.1}{OH}\pud{67.2}{32.6}{1.8}{OH}\wdg{97.9}{43.5}{102.9}{29.6}\bnd{(102.9,29.6)--(96.2,25.7)--(93.4,17.7)--(103.2,14.1)--(110.2,17.7)--(110.2,25.7)--cycle}\dbl{96.2}{25.7}{88.8}{29.6}\dbl{103.2}{14.1}{103.2}{6.2}\atm{24.3}{11.3}{OH}\atm{10}{18.5}{O}\atm{30.6}{25.7}{O}\atm{7.5}{32.6}{HO}\atm{15.9}{46.6}{HO}\atm{36.9}{46.6}{OH}\atm{43.2}{32.6}{O}\atm{59.2}{32.6}{O}\atm{75.3}{32.6}{O}\atm{102.9}{29.6}{N}\atm{88.8}{29.6}{O}\atm{93.4}{17.7}{HN}\atm{103.2}{6.2}{O}}
\cpd{C00004b}{1220}{1173}{1348}{1244}{C00004}{\nadhm}
\cpd{C00080b}{1358}{1197}{1388}{1219}{C00080}{\proton}
\cpd{C00003h}{1397}{1172}{1526}{1245}{C00003}{\nadm}
\cpd{C00005}{81}{1305}{254}{1417}{C00005}{\ndpm}
\cpd{C00011g}{42}{1349}{71}{1372}{C00011}{\carbon}
\cpd{C00080c}{264}{1351}{294}{1373}{C00080}{\proton}
\cpd{C04734}{304}{1330}{397}{1392}{C04734}{\rfph{43.5}{27.6}\wdg{50}{32.7}{55.5}{24.8}\bnd{(55.5,24.8)--(53.7,15.5)--(59.8,12.2)--(66.5,17.4)--(64.9,25.7)--cycle}\bnd{(66.5,17.4)--(75.6,14.6)--(83.9,20.5)}\dbl{75.6}{14.6}{76.4}{5.9}\bnd{(64.9,25.7)--(70.5,31.7)--(63,37.7)--(56.9,40.5)}\dbl{63}{37.7}{70.2}{45.6}\atm{55.5}{24.8}{N}\atm{59.8}{12.2}{N}\atm{76.4}{5.9}{O}\atm{83.9}{20.5}{\NHt}\atm{70.5}{31.7}{NH}\atm{56.9}{40.5}{H}\atm{70.2}{45.6}{O}}
\cpd{C00003i}{407}{1339}{522}{1384}{C00003}{\adpm}
\cpd{C00101}{532}{1333}{732}{1389}{C00101}{\ptrn\bnd{(63.8,24.2)--(75,29.7)--(89.5,24.2)--(102.3,29.4)}\bnd{(102.3,29.4)--(107,20.9)--(118.2,20.9)--(123.3,29.4)--(118.2,38.4)--(107,38.4)--cycle}\bnd{(109,23)--(116.5,23)}\bnd{(108,36)--(104.5,30)}\bnd{(117.2,36)--(121,30)}\bnd{(123.3,29.4)--(132,24.7)--(144.9,30.6)--(155.4,25)--(164.2,29.7)--(174,25.3)--(183,29.7)--(180.1,41.4)}\dbl{132}{24.7}{132}{15}\bnd{(155.4,25)--(155.4,14.5)--(167,9.7)}\dbl{155.4}{14.5}{146.7}{9.7}\dbl{183}{29.7}{191.6}{25.7}\atm{89.5}{24.2}{NH}\atm{132}{15}{O}\atm{144.9}{30.6}{NH}\atm{146.7}{9.7}{O}\atm{167}{9.7}{OH}\atm{191.6}{25.7}{O}\atm{180.1}{41.4}{HO}}
\cpd{C00009f}{742}{1342}{777}{1380}{C00009}{\phosph}
\cpd{C16155}{1127}{1330}{1261}{1391}{C16155}{\bnd{(20.5,21.3)--(13.5,25.6)--(13.5,33.1)--(20.5,37.5)--(28.2,33.1)--(28.2,25.6)--cycle}\dbl{13.5}{33.1}{6.1}{37.5}\wdg{20.5}{37.5}{21.5}{42}\hsh{28.2}{33.1}{33}{36}\hsh{28.2}{25.6}{34.8}{21.3}\rib{88.7}{13}\bnd{(34.8,21.3)--(67.7,21.3)}\pdu{42.9}{21.3}{2.1}{OH}\pdu{59.6}{21.3}{2.1}{OH}\wdg{95.3}{18.1}{102.2}{15.2}\bnd{(102.2,15.2)--(103.9,6.5)--(112,4.3)--(118.7,9.4)--(118.7,17.7)--(110,20.9)--cycle}\bnd{(105.5,8.5)--(111.5,6.8)}\dbl{118.7}{9.4}{126.7}{6.9}\dbl{110}{20.9}{107.1}{28.6}\atm{20.5}{21.3}{O}\atm{6.1}{37.5}{O}\atm{22.6}{45.9}{OH}\atm{37}{37.5}{OH}\atm{34.8}{21.3}{O}\atm{51.5}{21.3}{O}\atm{68}{21.3}{O}\atm{102.2}{15.2}{N}\atm{126.7}{6.9}{O}\atm{118.7}{17.7}{NH}\atm{107.1}{28.6}{O}}
\cpd{C00011h}{1272}{1349}{1302}{1373}{C00011}{\carbon}
\cpd{C00080d}{1311}{1350}{1342}{1372}{C00080}{\proton}
\cpd{C00004c}{1352}{1325}{1479}{1397}{C00004}{\nadhm}
\cpd{C00006}{67}{1478}{198}{1566}{C00006}{\molsize{6.2}\begin{scope}[xscale=.757,yscale=.785]\ndpm\end{scope}}
\cpd{C00001e}{208}{1508}{238}{1535}{C00001}{\water}
\cpd{C00234}{247}{1493}{437}{1551}{C00234}{\begin{scope}[yshift=-.12cm]\ptrn\end{scope}\bnd{(63.8,26.7)--(70,32)--(80.4,26.9)--(92.7,27)}\bnd{(80.4,26.9)--(82,17)}\dbl{82}{17}{90.6}{13.3}\bnd{(92.7,27)--(98.6,19.6)--(106.6,19.6)--(112.7,28.7)--(106.6,37.9)--(98.6,37.9)--cycle}\bnd{(100,22)--(105.5,22)}\bnd{(100,35.8)--(95.5,28)}\bnd{(105.5,35.8)--(110,28.7)}\bnd{(112.7,28.7)--(121.2,24.4)--(133.3,30.3)--(146.1,24.4)--(154.7,28.7)--(165.9,23)--(174.7,28.7)--(175.5,39.2)}\dbl{121.2}{24.4}{121.2}{13.7}\bnd{(146.1,24.4)--(146.1,12.4)--(157.4,7.8)}\dbl{146.1}{12.4}{136.5}{8.1}\dbl{174.7}{28.7}{182}{23.1}\atm{80.4}{26.9}{N}\atm{90.6}{13.3}{O}\atm{121.2}{13.7}{O}\atm{133.3}{30.3}{NH}\atm{136.5}{8.1}{O}\atm{157.4}{7.8}{OH}\atm{182}{23.1}{O}\atm{175.5}{39.2}{OH}}
\cpd{C00001f}{780}{1508}{810}{1535}{C00001}{\water}
\cpd{C00130}{820}{1486}{890}{1557}{C00130}{\rfph{47}{36.5}\wdg{53.6}{41.6}{59}{33.9}\bnd{(59,32)--(51.9,28)--(44.9,31.2)--(37.9,28)--(36.7,18.7)--(44.9,15.2)--(51.9,19)--(51.9,28)}\bnd{(51.9,19)--(60,16)--(65.2,23.5)--(60,29.7)--(51.9,28)}\dbl{44.9}{15.2}{44.9}{6.6}\atm{44.9}{6.6}{O}\atm{36.7}{18.7}{HN}\atm{44.9}{31.2}{N}\atm{60}{16}{N}\atm{60}{29.7}{N}}
% edges
\draw[rx] (C00117.-12) -- (R01049);
\draw[rx] (C00117.-126) .. controls (262,105) and (251,170) .. (R06590);
\draw[rx] (C00002a) -- (R01049);
\draw[rx] (R01049) -- (C00119);
\draw[rx] (R01049) .. controls (800,78) and (1150,85) .. (C00020);
\draw[rx] (C00108) -- (R01073);
\draw[rx] (C00119) -- (R01073);
\draw[rx] (C00119) -- (R01072);
\draw[rx] (C00001a) -- (R01072);
\draw[rx] (C00064) -- (R01072);
\draw[rx] (C00064.-58) .. controls (665,260) and (682,350) .. (681,430) .. controls (680,540) and (620,590) .. (R04463);
\draw[rx] (C00430.-55) .. controls (722,205) and (750,222) .. (R00830);
\draw[rx] (C00010) -- (R00830);
\draw[rx] (C00011a) .. controls (866,190) and (845,215) .. (R00830);
\draw[rx] (C00011b.-70) .. controls (925,195) and (935,212) .. (R03425);
\draw[rx] (C01242) -- (R03425);
\draw[rx] (C01326) -- (R05704);
\draw[rx] (C00011c) -- (R05704);
\draw[rx] (blanka) -- (R05704);
\draw[rx] (R01073) -- (C04302);
\draw[rx] (R01073) -- (C00013a);
\draw[rx] (R01072) .. controls (510,250) and (480,265) .. (C00013b);
\draw[rx] (R01072) -- (C03090);
\draw[rx] (R01072.-80) .. controls (590,400) and (660,600) .. (C00025.123);
\draw[rx] (R00830) -- (C00091);
\draw[rx] (R00830) .. controls (880,250) and (925,265) .. (C00037);
\draw[rx] (R03425) -- (C00037);
\draw[rx] (R03425) .. controls (1080,243) and (1170,255) .. (C02051);
\draw[rx] (R05704) .. controls (1030,255) and (965,262) .. (C00037);
\draw[rx] (R05704) .. controls (1200,245) and (1275,255) .. (blankb);
\draw[rx] (C04302) .. controls (240,335) and (210,352) .. (R03509);
\draw[rx] (C12214) .. controls (470,365) and (340,355) .. (R06590);
\draw[rx] (R03509) -- (C01302);
\draw[rx] (R06590) .. controls (228,390) and (218,400) .. (C12215);
\draw[rx] (R06590) -- (C05382);
\draw[rx] (C05382) -- (R01827);
\draw[rx] (R01827) -- (C00279);
\draw[rx] (R01827) -- (C05345);
\draw[rx] (C00118) -- (R01827);
\draw[rx] (C00279) -- (R01830);
\draw[rx] (C00231) -- (R01830);
\draw[rx] (R01830) -- (C05345);
\draw[rx] (R01830) -- (C00118);
\draw[rx] (C01302) -- (R03508);
\draw[rx] (R03508) .. controls (75,535) and (55,550) .. (C00001b);
\draw[rx] (R03508) -- (C03506);
\draw[rx] (R03508) .. controls (148,538) and (160,550) .. (C00011e);
\draw[rx] (C03506) -- (R02340);
\draw[rx] (R02340) -- (C00463);
\draw[rx] (R02340) -- (C00118);
\draw[rx] (C05345) -- (R02740);
\draw[rx] (R02740) -- (C00668);
\draw[rx] (C00668) -- (R00959);
\draw[rx] (R00959) -- (C00103);
\draw[rx] (C00103) .. controls (430,990) and (520,1000) .. (R00955);
\draw[rx] (C04751.-142) .. controls (395,990) and (330,1003) .. (R04591);
\draw[rx] (C00049) .. controls (190,985) and (225,997) .. (R04591);
\draw[rx] (C00002f) -- (R04591);
\draw[rx] (R04591) .. controls (225,1025) and (200,1040) .. (C00009e);
\draw[rx] (R04591) -- (C04823);
\draw[rx] (R04591) -- (C00003f);
\draw[rx] (C04823) -- (R04559);
\draw[rx] (R04559) -- (C00122);
\draw[rx] (R04559) -- (C04677);
\draw[rx] (C04677) -- (R04560);
\draw[rx] (C04677) -- (R06975);
\draw[rx] (C00002g) -- (R06975);
\draw[rx] (R04560) -- (C04734);
\draw[rx] (R06975) .. controls (420,1298) and (385,1315) .. (C04734);
\draw[rx] (R06975) -- (C00003i);
\draw[rx] (R06975) .. controls (620,1295) and (745,1300) .. (C00009f);
\draw[rx] (R04560) .. controls (460,1285) and (555,1300) .. (C00101);
\draw[rx] (C00058.-106) .. controls (1275,500) and (1130,505) .. (R06974);
\draw[rx] (C00058.-100) .. controls (1278,490) and (1120,510) .. (1090,550) .. controls (1082,565) and (1083,590) .. (1083,620) -- (1081,1040) .. controls (1080,1130) and (1000,1165) .. (850,1195) .. controls (700,1225) and (580,1245) .. (R06975);
\draw[rx] (R00519) -- (C00003b);
\draw[rx] (R00519) .. controls (1220,385) and (1270,390) .. (C00058);
\draw[rx] (C00004a) -- (R00519);
\draw[rx] (C00080a) -- (R00519);
\draw[rx] (C00011d) .. controls (1152,330) and (1140,345) .. (R00519);
\draw[rx] (C00037) .. controls (915,340) and (880,358) .. (R04144);
\draw[rx] (C00002b) -- (R04144);
\draw[rx] (C03090) .. controls (720,352) and (780,362) .. (R04144);
\draw[rx] (R04144) -- (C03838);
\draw[rx] (R04144) -- (C00009a);
\draw[rx] (R04144) -- (C00003a);
\draw[rx] (C03838) -- (R04325);
\draw[rx] (C03838.-53) .. controls (815,495) and (930,510) .. (R06974);
\draw[rx] (C00002c) .. controls (1120,495) and (1060,505) .. (R06974);
\draw[rx] (R04325) -- (C04376);
\draw[rx] (R06974) .. controls (950,535) and (915,540) .. (C04376);
\draw[rx] (R06974) -- (C00003c);
\draw[rx] (R06974) -- (C00009b);
\draw[rx] (C04376) -- (R04463);
\draw[rx] (C00001c) .. controls (415,620) and (460,632) .. (R04463);
\draw[rx] (C00002d) -- (R04463);
\draw[rx] (R04463) .. controls (460,652) and (410,665) .. (C00003d);
\draw[rx] (R04463) -- (C04640);
\draw[rx] (R04463) .. controls (610,652) and (650,662) .. (C00009c);
\draw[rx] (R04463) .. controls (620,655) and (680,662) .. (C00025);
\draw[rx] (C04640) -- (R04208);
\draw[rx] (C00002e) -- (R04208);
\draw[rx] (R04208) -- (C00003e);
\draw[rx] (R04208) -- (C03373);
\draw[rx] (R04208) -- (C00009d);
\draw[rx] (C03373) -- (R04209);
\draw[rx] (C00011f) .. controls (375,860) and (425,870) .. (R04209);
\draw[rx] (R04209) -- (C04751);
\draw[rx] (C00052) -- (R00955);
\draw[rx] (R00955) -- (C00029);
\draw[rx] (R00955) .. controls (640,1022) and (675,1035) .. (C00446);
\draw[rx] (C00029.-27) .. controls (700,1125) and (1000,1128) .. (R00286);
\draw[rx] (C00003g) -- (R00286);
\draw[rx] (C00001d) .. controls (1300,1110) and (1280,1122) .. (R00286);
\draw[rx] (R00286) -- (C00167);
\draw[rx] (R00286) -- (C00004b);
\draw[rx] (R00286) .. controls (1330,1150) and (1365,1170) .. (C00080b);
\draw[rx] (C00167.south east) .. controls (1240,1258) and (1270,1268) .. (R07658);
\draw[rx] (C00003h.south west) -- (R07658);
\draw[rx] (R07658) -- (C16155);
\draw[rx] (R07658) -- (C00011h);
\draw[rx] (R07658) -- (C00080d);
\draw[rx] (R07658) -- (C00004c);
\draw[rx] (R04325) .. controls (772,1000) and (775,1260) .. (C00101);
\draw[rx] (C00101.-110) .. controls (545,1425) and (420,1435) .. (R00941);
\draw[rx] (C00005) -- (R00941);
\draw[rx] (C00011g.-95) .. controls (60,1430) and (140,1438) .. (R00941);
\draw[rx] (C00080c) .. controls (270,1410) and (250,1425) .. (R00941);
\draw[rx] (R00941) -- (C00006);
\draw[rx] (R00941) -- (C00001e);
\draw[rx] (R00941) -- (C00234);
\draw[rx] (C00234.155) .. controls (240,1472) and (150,1472) .. (103,1462) .. controls (70,1450) and (17,1400) .. (17,1350) .. controls (17,1310) and (40,1296) .. (122,1286) .. controls (190,1277) and (280,1275) .. (R04560);
\draw[rx] (C00234) .. controls (560,1495) and (690,1470) .. (764,1432) .. controls (790,1410) and (794,1390) .. (794,1327) -- (793,700) .. controls (793,620) and (785,570) .. (R04325);
\draw[rx] (C04734.-55) .. controls (400,1425) and (600,1437) .. (R01127);
\draw[rx] (R01127) -- (C00001f);
\draw[rx] (R01127) -- (C00130);
\end{tikzpicture}
\end{document}
